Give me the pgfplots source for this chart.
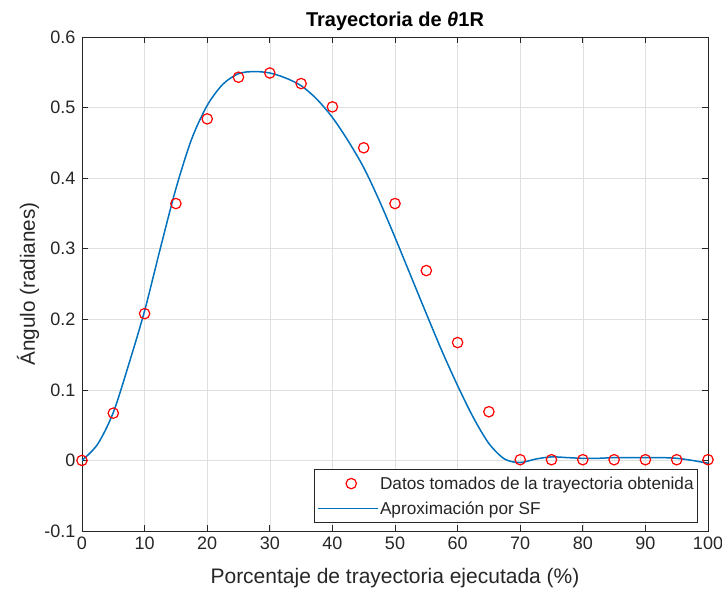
\documentclass[border=0pt]{standalone}
\usepackage{pgfplots}
\pgfplotsset{compat=1.18}
\usepackage{fontspec}
\setmainfont{Liberation Sans}
\definecolor{mblue}{rgb}{0,0.447,0.741}
\definecolor{axgray}{rgb}{0.15,0.15,0.15}
\definecolor{gridgray}{rgb}{0.875,0.875,0.875}
\pgfplotsset{
  marklegend/.style={legend image code/.code={\draw[mark repeat=2,mark phase=2,##1,line width=1.2pt] plot coordinates {(0pt,0pt) (33pt,0pt) (66pt,0pt)};}},
  linelegend/.style={legend image code/.code={\draw[##1,line width=1.5pt] (0pt,0pt) -- (60pt,0pt);}},
}
\begin{document}
\begin{tikzpicture}
\begin{axis}[
  scale only axis, width=626pt, height=494pt,
  xmin=0, xmax=100, ymin=-0.1, ymax=0.6,
  xtick={0,10,20,30,40,50,60,70,80,90,100},
  ytick={-0.1,0,0.1,0.2,0.3,0.4,0.5,0.6},
  grid=major, major grid style={gridgray, line width=0.6pt},
  axis line style={axgray, line width=0.7pt},
  tick style={axgray, line width=0.7pt},
  tick align=inside, major tick length=6pt,
  xtick pos=both, ytick pos=both,
  /pgf/number format/assume math mode=true,
  /pgf/number format/fixed,
  every tick label/.append style={font=\fontsize{18}{20}\selectfont, text=axgray},
  xticklabel style={yshift=-2pt},
  yticklabel style={xshift=-3pt},
  title={\textbf{Trayectoria de \textit{θ}1R}},
  title style={at={(rel axis cs:0.5,1)}, anchor=center, yshift=10pt, font=\fontsize{20}{22}\selectfont, text=black},
  xlabel={Porcentaje de trayectoria ejecutada (\%)},
  xlabel style={at={(rel axis cs:0.5,0)}, anchor=center, yshift=-47pt, font=\fontsize{21}{23}\selectfont, text=axgray},
  ylabel={Ángulo (radianes)},
  ylabel style={at={(axis description cs:-0.0863,0.5)}, anchor=center, font=\fontsize{20.7}{23}\selectfont, text=axgray},
  legend style={at={(rel axis cs:0.984,0.016)}, anchor=south east, draw=axgray, line width=0.7pt,
    font=\fontsize{17.2}{19}\selectfont, text=axgray, inner xsep=3pt, inner ysep=6pt, row sep=9pt,
    nodes={inner sep=1pt}, cells={anchor=west}},
  legend cell align=left,
  clip=false,
]
\addplot[only marks, mark=o, mark size=5.2pt, draw=red, line width=1.2pt, marklegend]
coordinates {
(0,0) (5,0.067) (10,0.208) (15,0.364) (20,0.484) (25,0.543) (30,0.549) (35,0.534)
(40,0.501) (45,0.443) (50,0.364) (55,0.269) (60,0.167) (65,0.069) (70,0.001)
(75,0.001) (80,0.001) (85,0.001) (90,0.001) (95,0.001) (100,0.001)
};
\addlegendentry{Datos tomados de la trayectoria obtenida}
\addplot[mblue, line width=1.5pt, smooth, tension=0.5, no marks, linelegend]
coordinates {
(0,0) (2.5,0.023) (5,0.068) (7.5,0.137) (10,0.212) (12.5,0.300) (15,0.385) (17.5,0.455)
(20,0.503) (22.5,0.533) (25,0.548) (27.5,0.551) (30,0.549) (32.5,0.542) (35,0.531)
(37.5,0.512) (40,0.486) (42.5,0.453) (45,0.415) (47.5,0.368) (50,0.316) (52.5,0.262)
(55,0.208) (57.5,0.155) (60,0.106) (62.5,0.061) (65,0.024) (67.5,0.002) (70,-0.003)
(72.5,0.002) (75,0.005) (77.5,0.004) (80,0.003) (82.5,0.003) (85,0.004) (87.5,0.004)
(90,0.004) (92.5,0.004) (95,0.003) (97.5,0.000) (100,-0.004)
};
\addlegendentry{Aproximación por SF}
\end{axis}
\pgfresetboundingbox
\path (current axis.south west) ++(-82pt,-61pt) coordinate (bl);
\path (current axis.north east) ++(14pt,37pt) coordinate (tr);
\path (bl) rectangle (tr);
\end{tikzpicture}
\end{document}
